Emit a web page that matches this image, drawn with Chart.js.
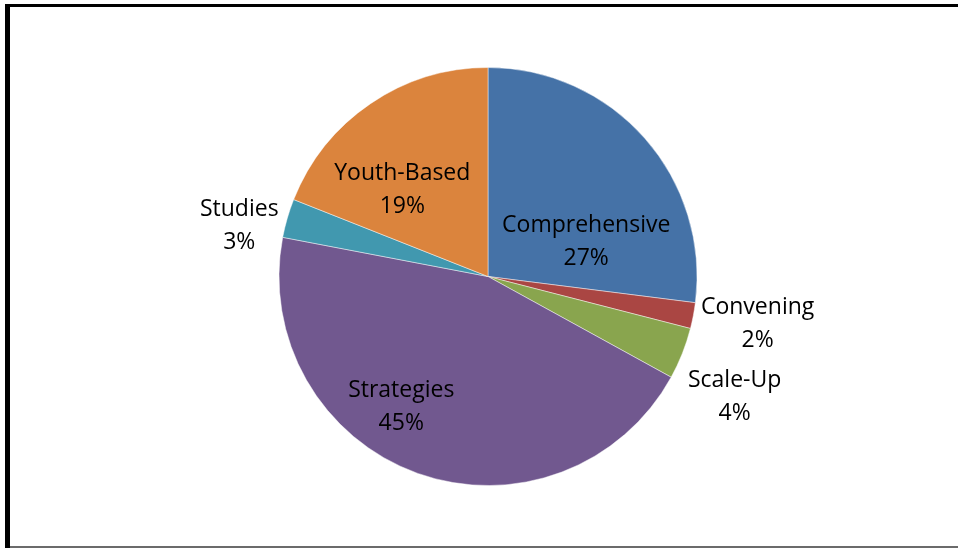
<!DOCTYPE html>
<html>
<head>
<meta charset="utf-8">
<script src="https://cdn.jsdelivr.net/npm/chart.js@4"></script>
<style>
    html, body { margin: 0; padding: 0; background: #fff; }
    #wrap { position: relative; width: 958px; height: 548px; }
</style>
</head>
<body>
<div id="wrap"><canvas id="typeChart" width="958" height="548"></canvas></div>
<script>
// grant types and their share of the total (%)
const typeLabels = ['Comprehensive', 'Convening', 'Scale-Up', 'Strategies', 'Studies', 'Youth-Based'];
const typeShares = [27, 2, 4, 45, 3, 19];
const typeColors = ['#4572A7', '#AA4643', '#89A54E', '#71588F', '#4198AF', '#DB843D'];

// where each label sits, as a fraction of the radius from the pie centre
const labelSpots = [
    [0.47, -0.165],
    [1.29, 0.225],
    [1.18, 0.575],
    [-0.415, 0.625],
    [-1.19, -0.24],
    [-0.41, -0.415]
];

// frame lines around the figure
const framePlugin = {
    id: 'frame',
    beforeDraw(chart) {
        const { ctx, width, height } = chart;
        ctx.save();
        ctx.fillStyle = '#000';
        ctx.fillRect(5, 4, width - 5, 3);
        ctx.fillRect(5, 4, 5, height - 4);
        ctx.fillStyle = '#6b6b6b';
        ctx.fillRect(10, height - 2, width - 10, 2);
        ctx.restore();
    }
};

// two-line "name / percent" labels
const sliceLabels = {
    id: 'sliceLabels',
    afterDatasetsDraw(chart) {
        const { ctx } = chart;
        const arcs = chart.getDatasetMeta(0).data;
        ctx.save();
        ctx.font = '23px "Open Sans", sans-serif';
        ctx.fillStyle = '#000';
        ctx.textAlign = 'center';
        ctx.textBaseline = 'middle';
        arcs.forEach((arc, i) => {
            const r = arc.outerRadius;
            const x = arc.x + labelSpots[i][0] * r;
            const y = arc.y + labelSpots[i][1] * r;
            ctx.fillText(typeLabels[i], x, y - 16.5);
            ctx.fillText(typeShares[i] + '%', x, y + 16.5);
        });
        ctx.restore();
    }
};

new Chart(document.getElementById('typeChart'), {
    type: 'pie',
    data: {
        labels: typeLabels,
        datasets: [{
            data: typeShares,
            backgroundColor: typeColors,
            borderColor: 'rgba(255,255,255,0.45)',
            borderWidth: 1
        }]
    },
    options: {
        responsive: false,
        animation: false,
        layout: { padding: { top: 67, bottom: 62, left: 200, right: 182 } },
        plugins: {
            legend: { display: false },
            tooltip: { enabled: false }
        }
    },
    plugins: [framePlugin, sliceLabels]
});
</script>
</body>
</html>
